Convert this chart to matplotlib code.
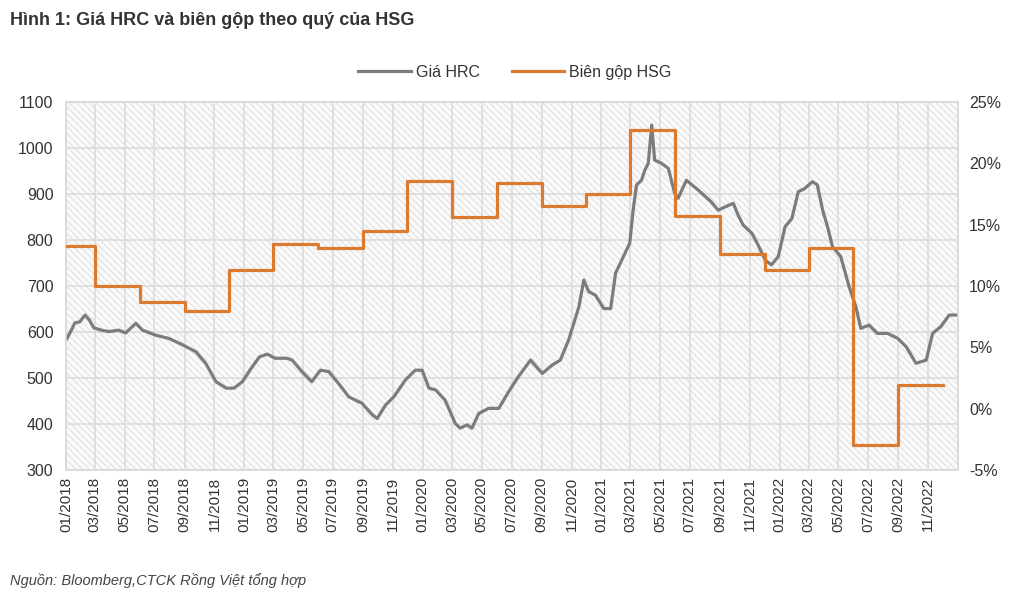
import matplotlib.pyplot as plt
import matplotlib.dates as mdates
from matplotlib.lines import Line2D
import pandas as pd

plt.rcParams['font.family'] = ['Liberation Sans', 'DejaVu Sans']
plt.rcParams['hatch.color'] = '#dedede'
plt.rcParams['hatch.linewidth'] = 0.7

# gia HRC (USD/tan), doc tu hinh
hrc_dates = [
    '2018-01-03', '2018-01-12', '2018-01-19', '2018-01-29', '2018-02-09', '2018-02-18',
    '2018-02-27', '2018-03-15', '2018-03-30', '2018-04-19', '2018-05-03', '2018-05-24',
    '2018-06-07', '2018-07-04', '2018-07-31', '2018-08-28', '2018-09-24', '2018-10-14',
    '2018-11-04', '2018-11-25', '2018-12-11', '2018-12-28', '2019-01-15', '2019-02-01',
    '2019-02-17', '2019-03-05', '2019-03-29', '2019-04-09', '2019-04-29', '2019-05-19',
    '2019-06-06', '2019-06-23', '2019-07-13', '2019-08-03', '2019-08-30', '2019-09-20',
    '2019-09-30', '2019-10-17', '2019-11-03', '2019-11-27', '2019-12-17', '2019-12-31',
    '2020-01-14', '2020-01-28', '2020-02-16', '2020-03-08', '2020-03-18', '2020-04-01',
    '2020-04-11', '2020-04-25', '2020-05-15', '2020-06-05', '2020-06-25', '2020-07-15',
    '2020-08-09', '2020-09-02', '2020-09-22', '2020-10-09', '2020-10-26', '2020-11-16',
    '2020-11-26', '2020-12-06', '2020-12-20', '2021-01-06', '2021-01-20', '2021-01-30',
    '2021-02-15', '2021-02-28', '2021-03-07', '2021-03-14', '2021-03-24', '2021-03-31',
    '2021-04-07', '2021-04-14', '2021-04-20', '2021-05-04', '2021-05-18', '2021-05-31',
    '2021-06-07', '2021-06-24', '2021-07-18', '2021-08-14', '2021-08-28', '2021-09-11',
    '2021-09-28', '2021-10-08', '2021-10-18', '2021-11-05', '2021-11-18', '2021-12-02',
    '2021-12-15', '2021-12-29', '2022-01-12', '2022-01-26', '2022-02-08', '2022-02-21',
    '2022-03-09', '2022-03-19', '2022-03-30', '2022-04-09', '2022-04-19', '2022-05-06',
    '2022-05-23', '2022-06-06', '2022-06-16', '2022-07-03', '2022-07-20', '2022-08-10',
    '2022-08-31', '2022-09-17', '2022-10-07', '2022-10-28', '2022-11-10', '2022-11-27',
    '2022-12-14', '2022-12-28',
]
hrc_price = [
    586, 604, 620, 622, 637, 626,
    609, 604, 601, 604, 598, 619,
    604, 593, 586, 572, 557, 532,
    492, 478, 478, 492, 521, 546,
    552, 543, 543, 539, 514, 492,
    517, 514, 488, 459, 445, 420,
    412, 441, 459, 496, 517, 517,
    478, 474, 452, 401, 391, 398,
    391, 423, 434, 434, 470, 503,
    539, 510, 528, 539, 583, 655,
    713, 688, 680, 651, 651, 728,
    764, 793, 865, 920, 930, 952,
    967, 1050, 974, 967, 956, 902,
    891, 930, 909, 883, 865, 872,
    880, 854, 833, 815, 789, 757,
    746, 764, 829, 847, 905, 912,
    927, 920, 865, 829, 786, 764,
    699, 655, 608, 615, 597, 597,
    586, 568, 532, 539, 597, 612,
    637, 637,
]

# bien gop HSG theo quy (%), moi muc bat dau tu ngay trong danh sach
margin_start = [
    '2018-01-01', '2018-03-01', '2018-06-01', '2018-09-01',
    '2018-12-01', '2019-03-01', '2019-06-01', '2019-09-01',
    '2019-12-01', '2020-03-01', '2020-06-01', '2020-09-01',
    '2020-12-01', '2021-03-01', '2021-06-01', '2021-09-01',
    '2021-12-01', '2022-03-01', '2022-06-01', '2022-09-01',
]
margin_end = '2022-12-01'
margin_pct = [
    13.3, 10.0, 8.7, 8.0,
    11.3, 13.4, 13.1, 14.5,
    18.6, 15.6, 18.4, 16.5,
    17.5, 22.7, 15.7, 12.6,
    11.3, 13.1, -3.0, 1.9,
]

tick_dates = pd.date_range('2018-01-01', '2022-11-01', freq='2MS')

gray = '#7c7c7c'
orange = '#dc7a30'
grid_c = '#dadada'
txt = '#333333'

fig = plt.figure(figsize=(10.36, 6.08), dpi=100)
ax = fig.add_axes([0.0637, 0.227, 0.861, 0.605])
ax2 = ax.twinx()

ax.patch.set_facecolor('#fafafa')
ax.patch.set_hatch('\\\\\\\\\\')
ax.patch.set_edgecolor('#dedede')

x_hrc = pd.to_datetime(hrc_dates)
ax.plot(x_hrc, hrc_price, color=gray, lw=2.3, solid_joinstyle='round', zorder=3)

x_m = list(pd.to_datetime(margin_start)) + [pd.Timestamp(margin_end)]
y_m = margin_pct + [margin_pct[-1]]
ax2.step(x_m, y_m, where='post', color=orange, lw=2.3, zorder=4)

ax.set_xlim(pd.Timestamp('2018-01-01'), pd.Timestamp('2023-01-01'))
ax.set_ylim(300, 1100)
ax.set_yticks(range(300, 1101, 100))
ax2.set_ylim(-5, 25)
ax2.set_yticks(range(-5, 26, 5))
ax2.set_yticklabels([f'{v}%' for v in range(-5, 26, 5)])

ax.set_xticks(tick_dates)
ax.xaxis.set_major_formatter(mdates.DateFormatter('%m/%Y'))
ax.grid(True, color=grid_c, lw=1.1)
ax.set_axisbelow(True)

ax.tick_params(axis='x', length=0, pad=5, labelsize=11, labelcolor=txt, rotation=90)
ax.tick_params(axis='y', length=0, pad=9, labelsize=11.5, labelcolor=txt)
ax2.tick_params(axis='y', length=0, pad=8, labelsize=11.5, labelcolor=txt)

for a in (ax, ax2):
    for s in a.spines.values():
        s.set_color(grid_c)
        s.set_linewidth(1.1)

handles = [Line2D([], [], color=gray, lw=2.3), Line2D([], [], color=orange, lw=2.3)]
fig.legend(handles, ['Giá HRC', 'Biên gộp HSG'], loc='center', bbox_to_anchor=(0.497, 0.881),
           ncol=2, frameon=False, fontsize=11.5, handlelength=3.3, handletextpad=0.3,
           columnspacing=2.0, labelcolor=txt)

fig.text(0.01, 0.967, 'Hình 1: Giá HRC và biên gộp theo quý của HSG', fontsize=13,
         fontweight='bold', color=txt, va='center')
fig.text(0.01, 0.046, 'Nguồn: Bloomberg,CTCK Rồng Việt tổng hợp', fontsize=10.5,
         style='italic', color='#444444', va='center')

fig.savefig('out.png', dpi=100)
